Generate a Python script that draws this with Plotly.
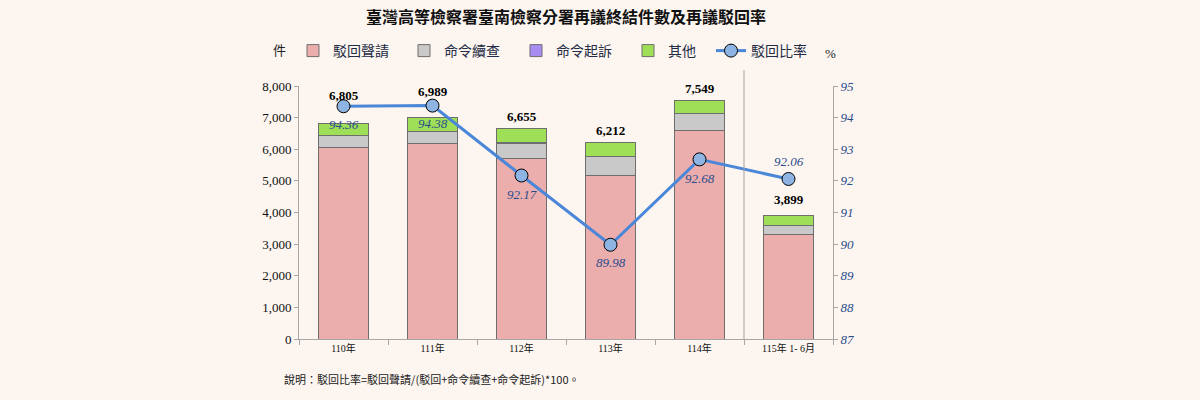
import plotly.graph_objects as go

categories = ["110年", "111年", "112年", "113年", "114年", "115年 1- 6月"]
rejected = [6060, 6190, 5710, 5185, 6600, 3310]        # 駁回聲請
reinvestigate = [362, 369, 485, 577, 521, 285]         # 命令續查
prosecute = [3, 2, 4, 1, 3, 1]                          # 命令起訴
other = [380, 428, 456, 449, 425, 303]                 # 其他
totals = [6805, 6989, 6655, 6212, 7549, 3899]
rates = [94.36, 94.38, 92.17, 89.98, 92.68, 92.06]     # 駁回比率
left_ticks = [0, 1000, 2000, 3000, 4000, 5000, 6000, 7000, 8000]
right_ticks = [87, 88, 89, 90, 91, 92, 93, 94, 95]

BG = "#FDF6F0"
SERIF = "Liberation Serif, Times New Roman, Noto Sans CJK TC"
CJK = "Noto Sans CJK TC, Noto Sans CJK JP, sans-serif"
BLUE_TXT = "#2B4C8C"

# plot-area pixel geometry
L, R, T, B = 299, 367, 86, 61
PW = 1200 - L - R
PH = 400 - T - B


def px_x(px):
    return (px - L) / PW


def px_y(py):
    return (400 - B - py) / PH


fig = go.Figure()
bar_line = dict(color="#6E6E6E", width=1)
series = [
    ("駁回聲請", rejected, "#ECADAD", "legend"),
    ("命令續查", reinvestigate, "#C9C9C9", "legend2"),
    ("命令起訴", prosecute, "#A98BF2", "legend3"),
    ("其他", other, "#9FDF57", "legend4"),
]
for name, vals, col, lg in series:
    fig.add_trace(go.Bar(x=categories, y=vals, name=name, marker=dict(color=col, line=bar_line),
                         legend=lg, yaxis="y"))

fig.add_trace(go.Scatter(x=categories, y=rates, name="駁回比率", yaxis="y2", mode="lines+markers",
                         line=dict(color="#4A87D8", width=3),
                         marker=dict(size=13, color="#8DB4E2", line=dict(color="#000000", width=1)),
                         legend="legend5"))

# total labels above bars
total_shift = [28, 26, 12, 12, 12, 16]
for c, t, s in zip(categories, totals, total_shift):
    fig.add_annotation(x=c, y=t, xref="x", yref="y", text=f"<b>{t:,}</b>", showarrow=False,
                       yshift=s, font=dict(family=SERIF, size=13, color="#000000"))

# rate labels
rate_shift = [-18, -18, -19, -18, -19, 17]
for c, r, s in zip(categories, rates, rate_shift):
    fig.add_annotation(x=c, y=r, xref="x", yref="y2", text=f"{r:.2f}", showarrow=False,
                       yshift=s, font=dict(family=SERIF, size=13, color=BLUE_TXT, style="italic"))

# separator between full years and partial year
fig.add_shape(type="line", xref="x", yref="paper", x0=4.5, x1=4.5, y0=0, y1=px_y(70),
              line=dict(color="#A0A0A0", width=1))

# unit labels and note
fig.add_annotation(xref="paper", yref="paper", x=px_x(279), y=px_y(50), text="件", showarrow=False,
                   xanchor="center", yanchor="middle",
                   font=dict(family=CJK, size=13, color="#222222"))
fig.add_annotation(xref="paper", yref="paper", x=px_x(830), y=px_y(53), text="%", showarrow=False,
                   xanchor="center", yanchor="middle",
                   font=dict(family=SERIF, size=13, color="#222222"))
fig.add_annotation(xref="paper", yref="paper", x=px_x(282), y=px_y(379), xanchor="left",
                   yanchor="middle",
                   text="說明：駁回比率=駁回聲請/(駁回+命令續查+命令起訴)*100。", showarrow=False,
                   font=dict(family=CJK, size=11, color="#222222"))

legend_font = dict(family=CJK, size=14, color="#222A44")
legend_text_start = [333, 444, 556, 668, 751]
legend_common = dict(orientation="h", yanchor="middle", xanchor="left", bgcolor="rgba(0,0,0,0)",
                     font=legend_font, itemclick=False, itemdoubleclick=False)
legend_layout = {}
for i, xs in enumerate(legend_text_start):
    key = "legend" if i == 0 else f"legend{i + 1}"
    legend_layout[key] = dict(x=px_x(xs - 40), y=px_y(51), **legend_common)

fig.update_layout(
    width=1200, height=400,
    margin=dict(l=L, r=R, t=T, b=B),
    paper_bgcolor=BG, plot_bgcolor=BG,
    barmode="stack", bargap=0.44,
    showlegend=True,
    title=dict(text="<b>臺灣高等檢察署臺南檢察分署再議終結件數及再議駁回率</b>",
               x=566 / 1200, xanchor="center", y=1 - 17 / 400, yanchor="middle", yref="container",
               font=dict(family=CJK, size=16, color="#111111")),
    xaxis=dict(showgrid=False, showline=True, linecolor="#A6A6A6", linewidth=1,
               ticks="outside", tickson="boundaries", ticklen=5, tickcolor="#A6A6A6",
               tickfont=dict(family=SERIF, size=10, color="#111111")),
    yaxis=dict(range=[0, 8000], tickvals=left_ticks, tickformat=",d", showgrid=False,
               showline=True, linecolor="#A6A6A6", linewidth=1, ticks="outside", ticklen=4,
               tickcolor="#A6A6A6", zeroline=False,
               tickfont=dict(family=SERIF, size=13, color="#111111")),
    yaxis2=dict(range=[87, 95], tickvals=right_ticks, overlaying="y", side="right", showgrid=False,
                showline=True, linecolor="#A6A6A6", linewidth=1, ticks="outside", ticklen=4,
                tickcolor="#A6A6A6", zeroline=False,
                tickfont=dict(family=SERIF, size=13, color=BLUE_TXT, style="italic")),
    **legend_layout,
)

fig.write_html("out.html")
